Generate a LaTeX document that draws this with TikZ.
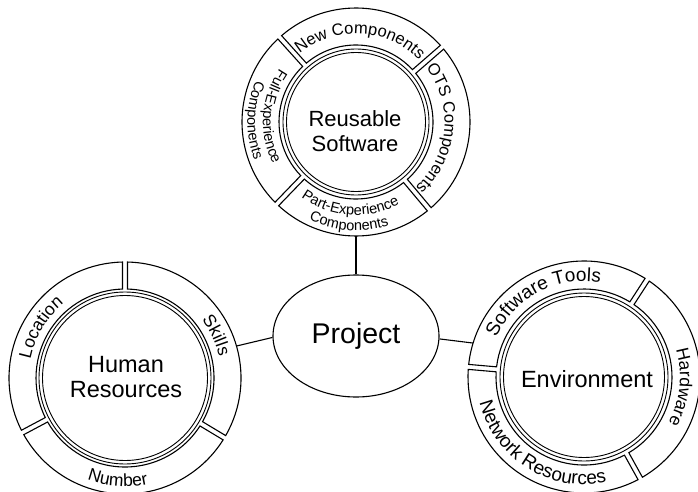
\documentclass[tikz,border=0pt]{standalone}
\usepackage{fontspec}
\setmainfont{Liberation Sans}
\newfontfamily\ringfam{Liberation Sans}
\usetikzlibrary{calc,decorations.text,shapes.geometric}
\tikzset{
  seg/.style={draw=black, line width=1.1pt, line join=miter},
  dbl/.style={draw=black, line width=0.9pt},
  hub/.style={circle, inner sep=0pt, draw=none},
  link/.style={draw=black, line width=1.1pt},
  ctr/.style={align=center, inner sep=0pt, text=black},
}
\newcommand{\ringfont}{\ringfam\fontsize{17.5}{17.5}\selectfont}
\newcommand{\bigring}{\ringfam\fontsize{19}{19}\selectfont}
\newcommand{\midring}{\ringfam\fontsize{16.5}{16.5}\selectfont}
\newcommand{\smallring}{\ringfam\fontsize{14.5}{14.5}\selectfont}
% center node, inner r, outer r, gap angle 1, gap angle 2, half gap
\newcommand{\rseg}[6]{%
  \pgfmathsetmacro{\rsgA}{#4+asin(#6/#3)}%
  \pgfmathsetmacro{\rsgB}{#5-asin(#6/#3)}%
  \pgfmathsetmacro{\rsgC}{#5-asin(#6/#2)}%
  \pgfmathsetmacro{\rsgD}{#4+asin(#6/#2)}%
  \draw[seg] ($(#1)+(\rsgA:#3)$) arc[start angle=\rsgA, end angle=\rsgB, radius=#3]
     -- ($(#1)+(\rsgC:#2)$) arc[start angle=\rsgC, end angle=\rsgD, radius=#2] -- cycle;}
% clockwise text (tops outward): center node, mid angle, half span, radius, text
\newcommand{\cwtext}[5]{%
  \path[decorate, decoration={text along path, text={#5}, text align=center}]
    ($(#1)+(#2+#3:#4)$) arc[start angle=#2+#3, end angle=#2-#3, radius=#4];}
% counter-clockwise text (tops inward)
\newcommand{\ccwtext}[5]{%
  \path[decorate, decoration={text along path, text={#5}, text align=center}]
    ($(#1)+(#2-#3:#4)$) arc[start angle=#2-#3, end angle=#2+#3, radius=#4];}
\begin{document}
\begin{tikzpicture}[x=1pt,y=1pt]
\useasboundingbox (0,0) rectangle (698,491);
% hubs
\node[hub, minimum size=228pt] (rs) at (356,369) {};
\node[hub, minimum size=232pt] (hr) at (125,113) {};
\node[hub, minimum size=232pt] (env) at (584,114) {};
\node[draw=black, line width=1.1pt, ellipse, minimum width=166pt, minimum height=122pt, inner sep=0pt,
      font=\fontsize{28.5}{30}\selectfont] (project) at (356,155) {Project};
% double circles
\draw[dbl] (rs.center) circle[radius=73];
\draw[dbl] (rs.center) circle[radius=69.5];
\draw[dbl] (hr.center) circle[radius=86];
\draw[dbl] (hr.center) circle[radius=82.5];
\draw[dbl] (env.center) circle[radius=84];
\draw[dbl] (env.center) circle[radius=80.5];
% ring segments
\rseg{rs}{77}{114}{41}{132}{2.5}
\rseg{rs}{77}{114}{132}{226}{2.5}
\rseg{rs}{77}{114}{226}{310}{2.5}
\rseg{rs}{77}{114}{-50}{41}{2.5}
\rseg{hr}{89}{116}{90}{208}{2.5}
\rseg{hr}{89}{116}{208}{329}{2.5}
\rseg{hr}{89}{116}{-31}{90}{2.5}
\rseg{env}{88}{116}{57}{175}{2.5}
\rseg{env}{88}{116}{175}{299}{2.5}
\rseg{env}{88}{116}{-61}{57}{2.5}
% centre texts
\node[ctr, font=\fontsize{22}{25}\selectfont] (rst) at (355,359.5) {Reusable\\Software};
\node[ctr, font=\fontsize{23.5}{25}\selectfont] (hrt) at (126,113.5) {Human\\Resources};
\node[ctr, font=\fontsize{23.5}{28}\selectfont, anchor=base] (envt) at (587,104) {Environment};
% ring texts
\cwtext{rs}{87}{60}{88.5}{|\midring|New Components}
\cwtext{rs}{-5}{60}{88.5}{|\midring|OTS Components}
\ccwtext{rs}{266}{60}{93}{|\smallring|Part-Experience}
\ccwtext{rs}{266}{60}{108.5}{|\smallring|Components}
\ccwtext{rs}{176}{60}{93}{|\smallring|Full-Experience}
\ccwtext{rs}{179}{60}{108.5}{|\smallring|Components}
\cwtext{hr}{149}{58}{96.4}{|\ringfont|Location}
\cwtext{hr}{25}{58}{96.4}{|\ringfont|Skills}
\ccwtext{hr}{266}{58}{108.6}{|\ringfont|Number}
\cwtext{env}{118}{60}{96}{|\bigring|Software Tools}
\cwtext{env}{-6}{60}{96}{|\ringfont|Hardware}
\ccwtext{env}{238}{64}{107.5}{|\bigring|Network Resources}
% connectors
\draw[link] (project.90) -- (rs.270);
\draw[link] (project.181) -- (hr.16);
\draw[link] (project.358) -- (env.163);
\end{tikzpicture}
\end{document}
